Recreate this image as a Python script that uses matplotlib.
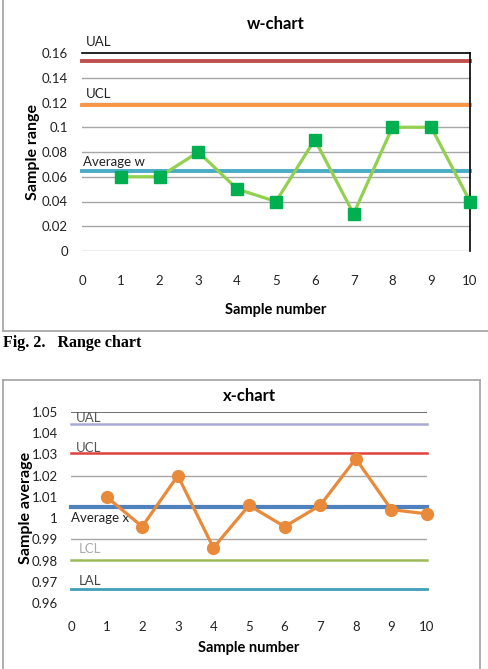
import matplotlib
matplotlib.use("Agg")
import matplotlib.pyplot as plt
from matplotlib.lines import Line2D

# ---- data ----
samples = [1, 2, 3, 4, 5, 6, 7, 8, 9, 10]
w_values = [0.06, 0.06, 0.08, 0.05, 0.04, 0.09, 0.03, 0.10, 0.10, 0.04]
w_ual = 0.1535
w_ucl = 0.118
w_avg = 0.0645
w_yticks = [0, 0.02, 0.04, 0.06, 0.08, 0.1, 0.12, 0.14, 0.16]
w_yticklabels = ["0", "0.02", "0.04", "0.06", "0.08", "0.1", "0.12", "0.14", "0.16"]

x_values = [1.010, 0.996, 1.020, 0.986, 1.006, 0.996, 1.006, 1.028, 1.004, 1.002]
x_ual = 1.0442
x_ucl = 1.0307
x_avg = 1.0054
x_lcl = 0.9801
x_lal = 0.9665
x_yticks = [0.96, 0.97, 0.98, 0.99, 1.0, 1.01, 1.02, 1.03, 1.04, 1.05]
x_yticklabels = ["0.96", "0.97", "0.98", "0.99", "1", "1.01", "1.02", "1.03", "1.04", "1.05"]
x_grid = [1.05, 1.02, 0.99]

xticks = list(range(0, 11))
xticklabels = [str(v) for v in xticks]

W, H = 489, 669
fig = plt.figure(figsize=(W / 100, H / 100), dpi=100)
plt.rcParams['font.family'] = ['Lato', 'DejaVu Sans']

def px_axes(x0, y0, x1, y1):
    return fig.add_axes([x0 / W, 1 - y1 / H, (x1 - x0) / W, (y1 - y0) / H])

def fig_line(xs, ys, **kw):
    fig.add_artist(Line2D([x / W for x in xs], [1 - y / H for y in ys],
                          transform=fig.transFigure, **kw))

# ---- boxes ----
box_kw = dict(color="#a8a8a8", lw=1.3)
fig_line([3, 3], [0, 331], **box_kw)
fig_line([3, 489], [331, 331], **box_kw)
fig_line([3, 480], [380, 380], **box_kw)
fig_line([3, 3], [380, 669], **box_kw)
fig_line([480, 480], [380, 669], **box_kw)

fig.text(3 / W, 1 - 343 / H, "Fig. 2.   Range chart", family="Liberation Serif",
         fontweight="bold", fontsize=11.5, va="center", ha="left")

# ---- w-chart ----
ax1 = px_axes(82, 53, 470, 251)
ax1.set_xlim(0, 10)
ax1.set_ylim(0, 0.16)
for s in ["left", "bottom"]:
    ax1.spines[s].set_visible(False)
for s in ["top", "right"]:
    ax1.spines[s].set_color("black")
    ax1.spines[s].set_linewidth(1.2)
for v in w_yticks[:-1]:
    ax1.axhline(v, color="#a6a6a6", lw=1.0, zorder=1)
ax1.axhline(w_ual, color="#c0504d", lw=2.8, zorder=2, clip_on=False)
ax1.axhline(w_ucl, color="#f79646", lw=2.8, zorder=2, clip_on=False)
ax1.axhline(w_avg, color="#4bacc6", lw=2.8, zorder=2, clip_on=False)
ax1.plot(samples, w_values, color="#92d050", lw=2.3, marker="s", ms=9,
         mfc="#00b050", mec="#00b050", zorder=4, clip_on=False)
ax1.set_yticks(w_yticks)
ax1.set_yticklabels(w_yticklabels, fontsize=9.5, color="#222222")
ax1.set_xticks(xticks)
ax1.set_xticklabels(xticklabels, fontsize=9.5, color="#222222")
ax1.tick_params(axis="y", length=0, pad=10)
ax1.tick_params(axis="x", which="major", length=0, pad=17)
ax1.set_xticks(samples, minor=True)
ax1.tick_params(axis="x", which="minor", length=4, color="#999999", width=0.9)
ax1.set_title("w-chart", fontsize=12, fontweight="bold", pad=17)
ax1.set_ylabel("Sample range", fontsize=11.5, fontweight="bold", labelpad=1)
ax1.set_xlabel("Sample number", fontsize=10.5, fontweight="bold", labelpad=12)
lbl = dict(fontsize=9.5, color="#222222", va="center", ha="left", clip_on=False)
ax1.text(0.1, 0.1685, "UAL", **lbl)
ax1.text(0.1, 0.127, "UCL", **lbl)
ax1.text(0.02, 0.072, "Average w", **lbl)

# ---- x-chart ----
ax2 = px_axes(71, 412, 427, 603)
ax2.set_xlim(0, 10)
ax2.set_ylim(0.96, 1.05)
for s in ax2.spines.values():
    s.set_visible(False)
ax2.axhline(x_grid[0], color="#555555", lw=1.2, zorder=1)
for v in x_grid[1:]:
    ax2.axhline(v, color="#a6a6a6", lw=1.0, zorder=1)
ax2.axhline(x_ual, color="#a9a9d8", lw=1.8, zorder=2, clip_on=False)
ax2.axhline(x_ucl, color="#e0413f", lw=1.8, zorder=2, clip_on=False)
ax2.axhline(x_avg, color="#4f81bd", lw=3.0, zorder=2, clip_on=False)
ax2.axhline(x_lcl, color="#9bbb59", lw=1.8, zorder=2, clip_on=False)
ax2.axhline(x_lal, color="#3fa0b8", lw=2.0, zorder=2, clip_on=False)
ax2.plot(samples, x_values, color="#e98a3a", lw=2.3, marker="o", ms=8.5,
         mfc="#e98a3a", mec="#e98a3a", zorder=4, clip_on=False)
ax2.set_yticks(x_yticks)
ax2.set_yticklabels(x_yticklabels, fontsize=9.5, color="#222222")
ax2.set_xticks(xticks)
ax2.set_xticklabels(xticklabels, fontsize=9.5, color="#222222")
ax2.tick_params(axis="y", length=0, pad=9.5)
ax2.tick_params(axis="x", which="major", length=0, pad=13)
ax2.set_xticks([2, 3, 5, 6, 8, 9], minor=True)
ax2.tick_params(axis="x", which="minor", length=4, direction="in", color="#bbbbbb", width=0.9)
ax2.set_title("x-chart", fontsize=12, fontweight="bold", pad=8)
ax2.set_ylabel("Sample average", fontsize=11.5, fontweight="bold", labelpad=-1)
ax2.set_xlabel("Sample number", fontsize=10.5, fontweight="bold", labelpad=6)
lbl2 = dict(fontsize=9.5, va="center", ha="left", clip_on=False)
ax2.text(0.14, 1.0472, "UAL", color="#555555", **lbl2)
ax2.text(0.14, 1.0330, "UCL", color="#555555", **lbl2)
ax2.text(0.0, 1.0000, "Average x", color="#222222", **lbl2)
ax2.text(0.22, 0.9854, "LCL", color="#aaaaaa", **lbl2)
ax2.text(0.22, 0.9704, "LAL", color="#444444", **lbl2)

fig.savefig("out.png", dpi=100)
